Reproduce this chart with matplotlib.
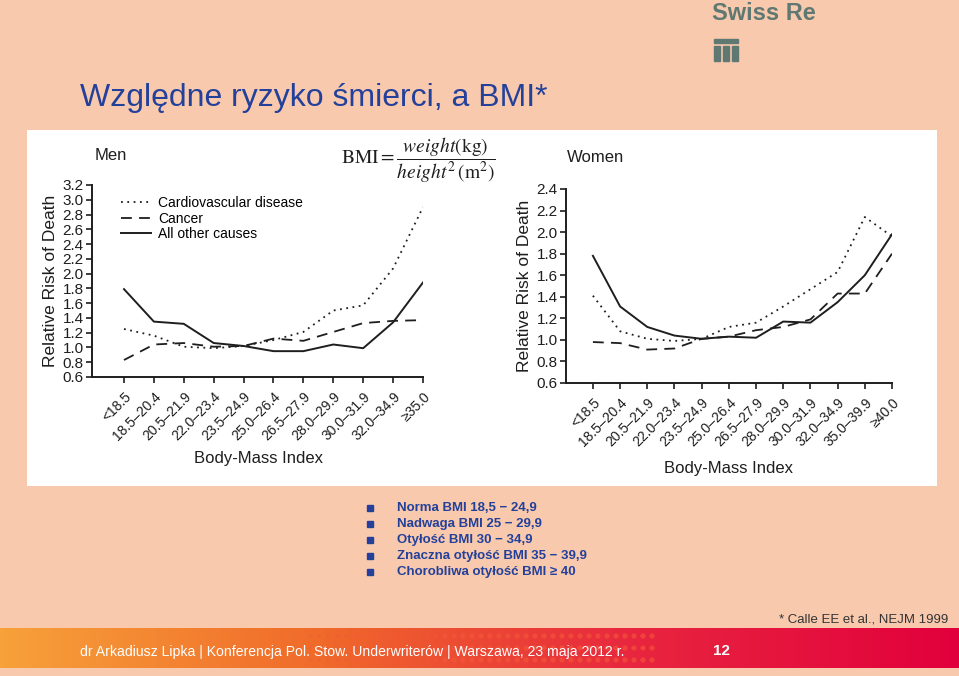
import numpy as np
from matplotlib import pyplot as plt
from matplotlib.patches import Rectangle
from matplotlib.colors import LinearSegmentedColormap
from matplotlib import font_manager

# categories
men_cats = ['<18.5', '18.5\u201320.4', '20.5\u201321.9', '22.0\u201323.4', '23.5\u201324.9',
            '25.0\u201326.4', '26.5\u201327.9', '28.0\u201329.9', '30.0\u201331.9',
            '32.0\u201334.9', '\u226535.0']
women_cats = ['<18.5', '18.5\u201320.4', '20.5\u201321.9', '22.0\u201323.4', '23.5\u201324.9',
              '25.0\u201326.4', '26.5\u201327.9', '28.0\u201329.9', '30.0\u201331.9',
              '32.0\u201334.9', '35.0\u201339.9', '\u226540.0']

# men relative risk
men_cardio = [1.25, 1.16, 1.01, 0.99, 1.02, 1.10, 1.21, 1.50, 1.57, 2.07, 2.90]
men_cancer = [0.83, 1.04, 1.06, 1.01, 1.02, 1.12, 1.09, 1.21, 1.33, 1.36, 1.37]
men_other = [1.79, 1.35, 1.32, 1.06, 1.02, 0.95, 0.95, 1.04, 0.99, 1.34, 1.88]

# women relative risk
women_cardio = [1.41, 1.08, 1.01, 0.99, 1.01, 1.12, 1.16, 1.31, 1.47, 1.63, 2.14, 1.96]
women_cancer = [0.98, 0.97, 0.91, 0.92, 1.01, 1.03, 1.09, 1.12, 1.19, 1.43, 1.43, 1.80]
women_other = [1.78, 1.31, 1.12, 1.04, 1.01, 1.03, 1.02, 1.17, 1.16, 1.35, 1.60, 1.98]

bullets = ['Norma BMI 18,5 \u2212 24,9',
           'Nadwaga BMI 25 \u2212 29,9',
           'Otyłość BMI 30 \u2212 34,9',
           'Znaczna otyłość BMI 35 \u2212 39,9',
           'Chorobliwa otyłość BMI \u2265 40']

W, H = 959, 676
BG = '#f9c9ae'
BLUE = '#23409a'
INK = '#1e1e1e'

plt.rcParams['font.family'] = ['Liberation Sans', 'DejaVu Sans']
plt.rcParams['mathtext.fontset'] = 'stix'

# narrow font for footer if available
names = {f.name for f in font_manager.fontManager.ttflist}
NARROW = 'Liberation Sans Narrow' if 'Liberation Sans Narrow' in names else 'Liberation Sans'
foot_size = 11.2 if NARROW != 'Liberation Sans' else 10.1

fig = plt.figure(figsize=(W / 100, H / 100), dpi=100)
fig.patch.set_facecolor(BG)


def px_axes(x0, y0, x1, y1):
    return fig.add_axes([x0 / W, 1 - y1 / H, (x1 - x0) / W, (y1 - y0) / H])


# background layer for decorations
bg = fig.add_axes([0, 0, 1, 1])
bg.set_xlim(0, W)
bg.set_ylim(H, 0)
bg.axis('off')
bg.add_patch(Rectangle((27, 130), 910, 356, facecolor='white', edgecolor='none'))

# footer gradient band
grad = np.linspace(0, 1, 256).reshape(1, -1)
cmap = LinearSegmentedColormap.from_list('band', ['#f7a13a', '#f06a2a', '#e8253f', '#e2003c'])
bg.imshow(grad, extent=[0, W, 668, 628], aspect='auto', cmap=cmap, zorder=1)
# dotted decoration in the band
for yy in [636, 648, 660]:
    xs = np.arange(310, 660, 9)
    sizes = np.where(xs > 440, 14, 4)
    bg.scatter(xs, np.full_like(xs, yy), s=sizes, color='#f5583a', alpha=0.6, zorder=2, linewidths=0)
bg.text(80, 652, 'dr Arkadiusz Lipka | Konferencja Pol. Stow. Underwriterów | Warszawa, 23 maja 2012 r.',
        color='white', fontsize=foot_size, family=NARROW, va='center', ha='left', zorder=3)
bg.text(722, 651, '12', color='white', fontsize=11, fontweight='bold', va='center', ha='center', zorder=3)
bg.text(948, 620, '* Calle EE et al., NEJM 1999', color='#333333', fontsize=9.5, va='center', ha='right')

# title
bg.text(80, 98, 'Względne ryzyko śmierci, a BMI*', color=BLUE, fontsize=23, va='center', ha='left')

# Swiss Re logo
LOGO = '#5f7871'
bg.text(712, 13, 'Swiss Re', color=LOGO, fontsize=17, fontweight='bold', va='center', ha='left')
bg.add_patch(Rectangle((714, 39), 24, 4, color=LOGO))
for xx in [714, 723, 732]:
    bg.add_patch(Rectangle((xx, 46), 6, 15, color=LOGO))

# bullet list
for i, txt in enumerate(bullets):
    yy = 508 + i * 16
    bg.add_patch(Rectangle((367, yy - 3), 6, 6, color=BLUE))
    bg.text(397, yy, txt, color=BLUE, fontsize=9.5, fontweight='bold', va='center', ha='left')

# BMI formula
bg.text(418, 160, r'$\mathrm{BMI} = \dfrac{weight(\mathrm{kg})}{height^2\,(\mathrm{m}^2)}$',
        fontsize=14, color=INK, va='center', ha='center')


def style_axes(ax, cats, ymax):
    ax.set_facecolor('none')
    for s in ['top', 'right']:
        ax.spines[s].set_visible(False)
    for s in ['left', 'bottom']:
        ax.spines[s].set_linewidth(1.4)
        ax.spines[s].set_color(INK)
    ax.set_ylim(0.6, ymax)
    ax.set_yticks(np.round(np.arange(0.6, ymax + 0.01, 0.2), 1))
    ax.set_yticklabels(['%.1f' % v for v in np.arange(0.6, ymax + 0.01, 0.2)])
    ax.set_xticks(range(len(cats)))
    ax.set_xticklabels(cats, rotation=45, ha='right', rotation_mode='anchor')
    ax.tick_params(axis='both', colors=INK, length=4, width=1.2, pad=2)
    ax.tick_params(axis='x', labelsize=10, pad=5)
    ax.tick_params(axis='y', labelsize=11)
    ax.set_ylabel('Relative Risk of Death', fontsize=12.5, color=INK, labelpad=3)


# men chart
ax1 = px_axes(92, 185, 423, 377)
x = range(len(men_cats))
ax1.plot(x, men_cardio, color=INK, lw=1.3, ls=(0, (1, 2.5)), label='Cardiovascular disease')
ax1.plot(x, men_cancer, color=INK, lw=1.3, ls=(0, (6, 4)), label='Cancer')
ax1.plot(x, men_other, color=INK, lw=1.4, ls='-', label='All other causes')
ax1.set_xlim(-1.07, 10)
style_axes(ax1, men_cats, 3.2)
ax1.legend(loc='upper left', bbox_to_anchor=(0.07, 0.97), frameon=False, fontsize=10,
           handlelength=2.2, handletextpad=0.5, labelspacing=0.1, borderaxespad=0)
bg.text(95, 155, 'Men', fontsize=12, color=INK, va='center', ha='left')
bg.text(258, 459, 'Body-Mass Index', fontsize=12, color=INK, va='center', ha='center')

# women chart
ax2 = px_axes(566, 189, 892, 383)
x = range(len(women_cats))
ax2.plot(x, women_cardio, color=INK, lw=1.3, ls=(0, (1, 2.5)))
ax2.plot(x, women_cancer, color=INK, lw=1.3, ls=(0, (6, 4)))
ax2.plot(x, women_other, color=INK, lw=1.4, ls='-')
ax2.set_xlim(-0.99, 11)
style_axes(ax2, women_cats, 2.4)
bg.text(567, 157, 'Women', fontsize=12, color=INK, va='center', ha='left')
bg.text(729, 468, 'Body-Mass Index', fontsize=12, color=INK, va='center', ha='center')

fig.savefig('out.png', dpi=100, facecolor=fig.get_facecolor())
